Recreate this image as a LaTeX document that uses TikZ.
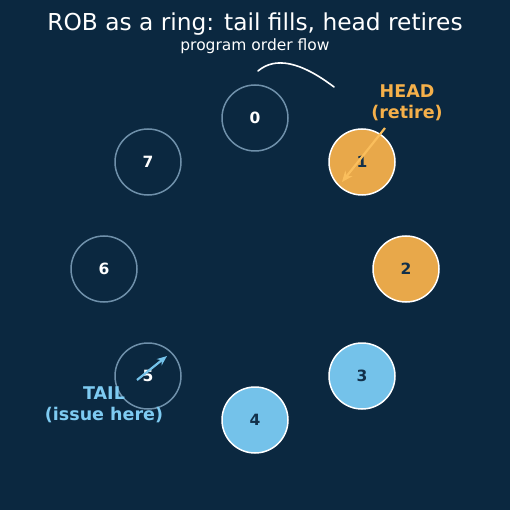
\documentclass[tikz,border=0pt]{standalone}
\usepackage{fontspec}
\setmainfont{DejaVu Sans}
\usetikzlibrary{arrows.meta}
\definecolor{bg}{HTML}{0B2840}
\definecolor{ringedge}{HTML}{6F90AA}
\definecolor{headfill}{HTML}{E8A84A}
\definecolor{headarrow}{HTML}{FABE5C}
\definecolor{headtxt}{HTML}{F5B04A}
\definecolor{tailfill}{HTML}{74C2EA}
\definecolor{tailtxt}{HTML}{7ECBF2}
\definecolor{darktxt}{HTML}{12304A}
\tikzset{
  slot/.style={circle, minimum size=66pt, inner sep=0pt, line width=1.5pt,
    font=\fontsize{15.5}{18}\selectfont\bfseries},
  emptyslot/.style={slot, draw=ringedge, text=white},
  headslot/.style={slot, draw=white, fill=headfill, text=darktxt},
  tailslot/.style={slot, draw=white, fill=tailfill, text=darktxt},
  lbl/.style={font=\fontsize{17.5}{21}\selectfont\bfseries, align=center}
}
\begin{document}
\begin{tikzpicture}[x=1pt,y=-1pt]
\fill[bg] (0,0) rectangle (510,510);
\useasboundingbox (0,0) rectangle (510,510);
\node[font=\fontsize{23.3}{26}\selectfont, text=white] (title) at (255,24) {ROB as a ring: tail fills, head retires};
\node[font=\fontsize{15.5}{18}\selectfont, text=white] (sub) at (255,46) {program order flow};
% order-flow arc above the ring
\coordinate (fa) at (258,71);
\coordinate (fb) at (334,87);
\draw[white, line width=1.6pt, line cap=round] (fa) .. controls (275.3,56.3) and (300.7,61.7) .. (fb);
% ring slots
\node[emptyslot] (s0) at (255,118) {0};
\node[headslot]  (s1) at (362,162) {1};
\node[headslot]  (s2) at (406,269) {2};
\node[tailslot]  (s3) at (362,376) {3};
\node[tailslot]  (s4) at (255,420) {4};
\node[emptyslot] (s5) at (148,376) {5};
\node[emptyslot] (s6) at (104,269) {6};
\node[emptyslot] (s7) at (148,162) {7};
% pointers
\node[lbl, text=headtxt] (head) at (407,103) {HEAD\\(retire)};
\node[lbl, text=tailtxt] (tail) at (104,405) {TAIL\\(issue here)};
\coordinate (hs) at (385,128);
\coordinate (he) at (342,182);
\draw[headarrow, line width=2.2pt, -{Stealth[length=11pt,width=9pt]}] (hs) -- (he);
\coordinate (ts) at (137,380);
\coordinate (te) at (167,356);
\draw[tailfill, line width=2.2pt, -{Stealth[length=10pt,width=8pt]}] (ts) -- (te);
\end{tikzpicture}
\end{document}
